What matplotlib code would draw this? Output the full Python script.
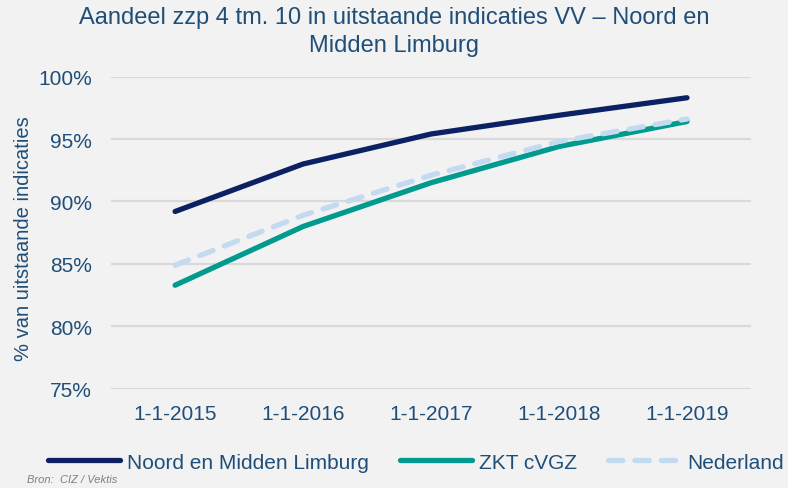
import matplotlib.pyplot as plt
import numpy as np

plt.rcParams['font.family'] = ['Liberation Sans', 'DejaVu Sans']

dates = ['1-1-2015', '1-1-2016', '1-1-2017', '1-1-2018', '1-1-2019']
noord = [89.2, 93.0, 95.4, 96.9, 98.3]
zkt = [83.3, 88.0, 91.5, 94.4, 96.4]
nederland = [84.9, 88.9, 92.1, 94.8, 96.6]
yticks = [75, 80, 85, 90, 95, 100]

txt = '#1F4E79'
bg = '#F2F2F2'

fig = plt.figure(figsize=(7.88, 4.89), dpi=100, facecolor=bg)
ax = fig.add_axes([0.141, 0.2025, 0.812, 0.639])
ax.set_facecolor(bg)

x = np.arange(len(dates))
ax.plot(x, noord, color='#0C2163', lw=3.8, solid_capstyle='round', label='Noord en Midden Limburg', zorder=3)
ax.plot(x, zkt, color='#009B8E', lw=3.8, solid_capstyle='round', label='ZKT cVGZ', zorder=4)
ax.plot(x, nederland, color='#C3DAF0', lw=3.8, dashes=(2.7, 2.3), dash_capstyle='round',
        label='Nederland', zorder=5)

ax.set_xlim(-0.5, 4.5)
ax.set_ylim(75, 100)
ax.set_yticks(yticks)
ax.set_yticklabels([f'{v}%' for v in yticks])
ax.set_xticks(x)
ax.set_xticklabels(dates)
ax.grid(axis='y', color='#D9D9D9', lw=1.6)
ax.set_axisbelow(True)
for s in ax.spines.values():
    s.set_visible(False)
ax.tick_params(length=0, labelsize=15, colors=txt)
ax.tick_params(axis='y', pad=14)
ax.tick_params(axis='x', pad=11)
ax.set_ylabel('% van uitstaande indicaties', fontsize=14.5, color=txt)
ax.yaxis.set_label_coords(-0.122, 0.485)

fig.text(0.5, 0.985, 'Aandeel zzp 4 tm. 10 in uitstaande indicaties VV \u2013 Noord en\nMidden Limburg',
         ha='center', va='top', fontsize=17, color=txt, linespacing=1.35)

fig.legend(loc='center', bbox_to_anchor=(0.528, 0.053), ncol=3, frameon=False, fontsize=15,
           handlelength=3.45, handletextpad=0.34, columnspacing=1.5, labelcolor=txt)

fig.text(0.034, 0.012, 'Bron:  CIZ / Vektis', fontsize=8, style='italic', color='#7F7F7F')

fig.savefig('out.png', dpi=100, facecolor=bg)
